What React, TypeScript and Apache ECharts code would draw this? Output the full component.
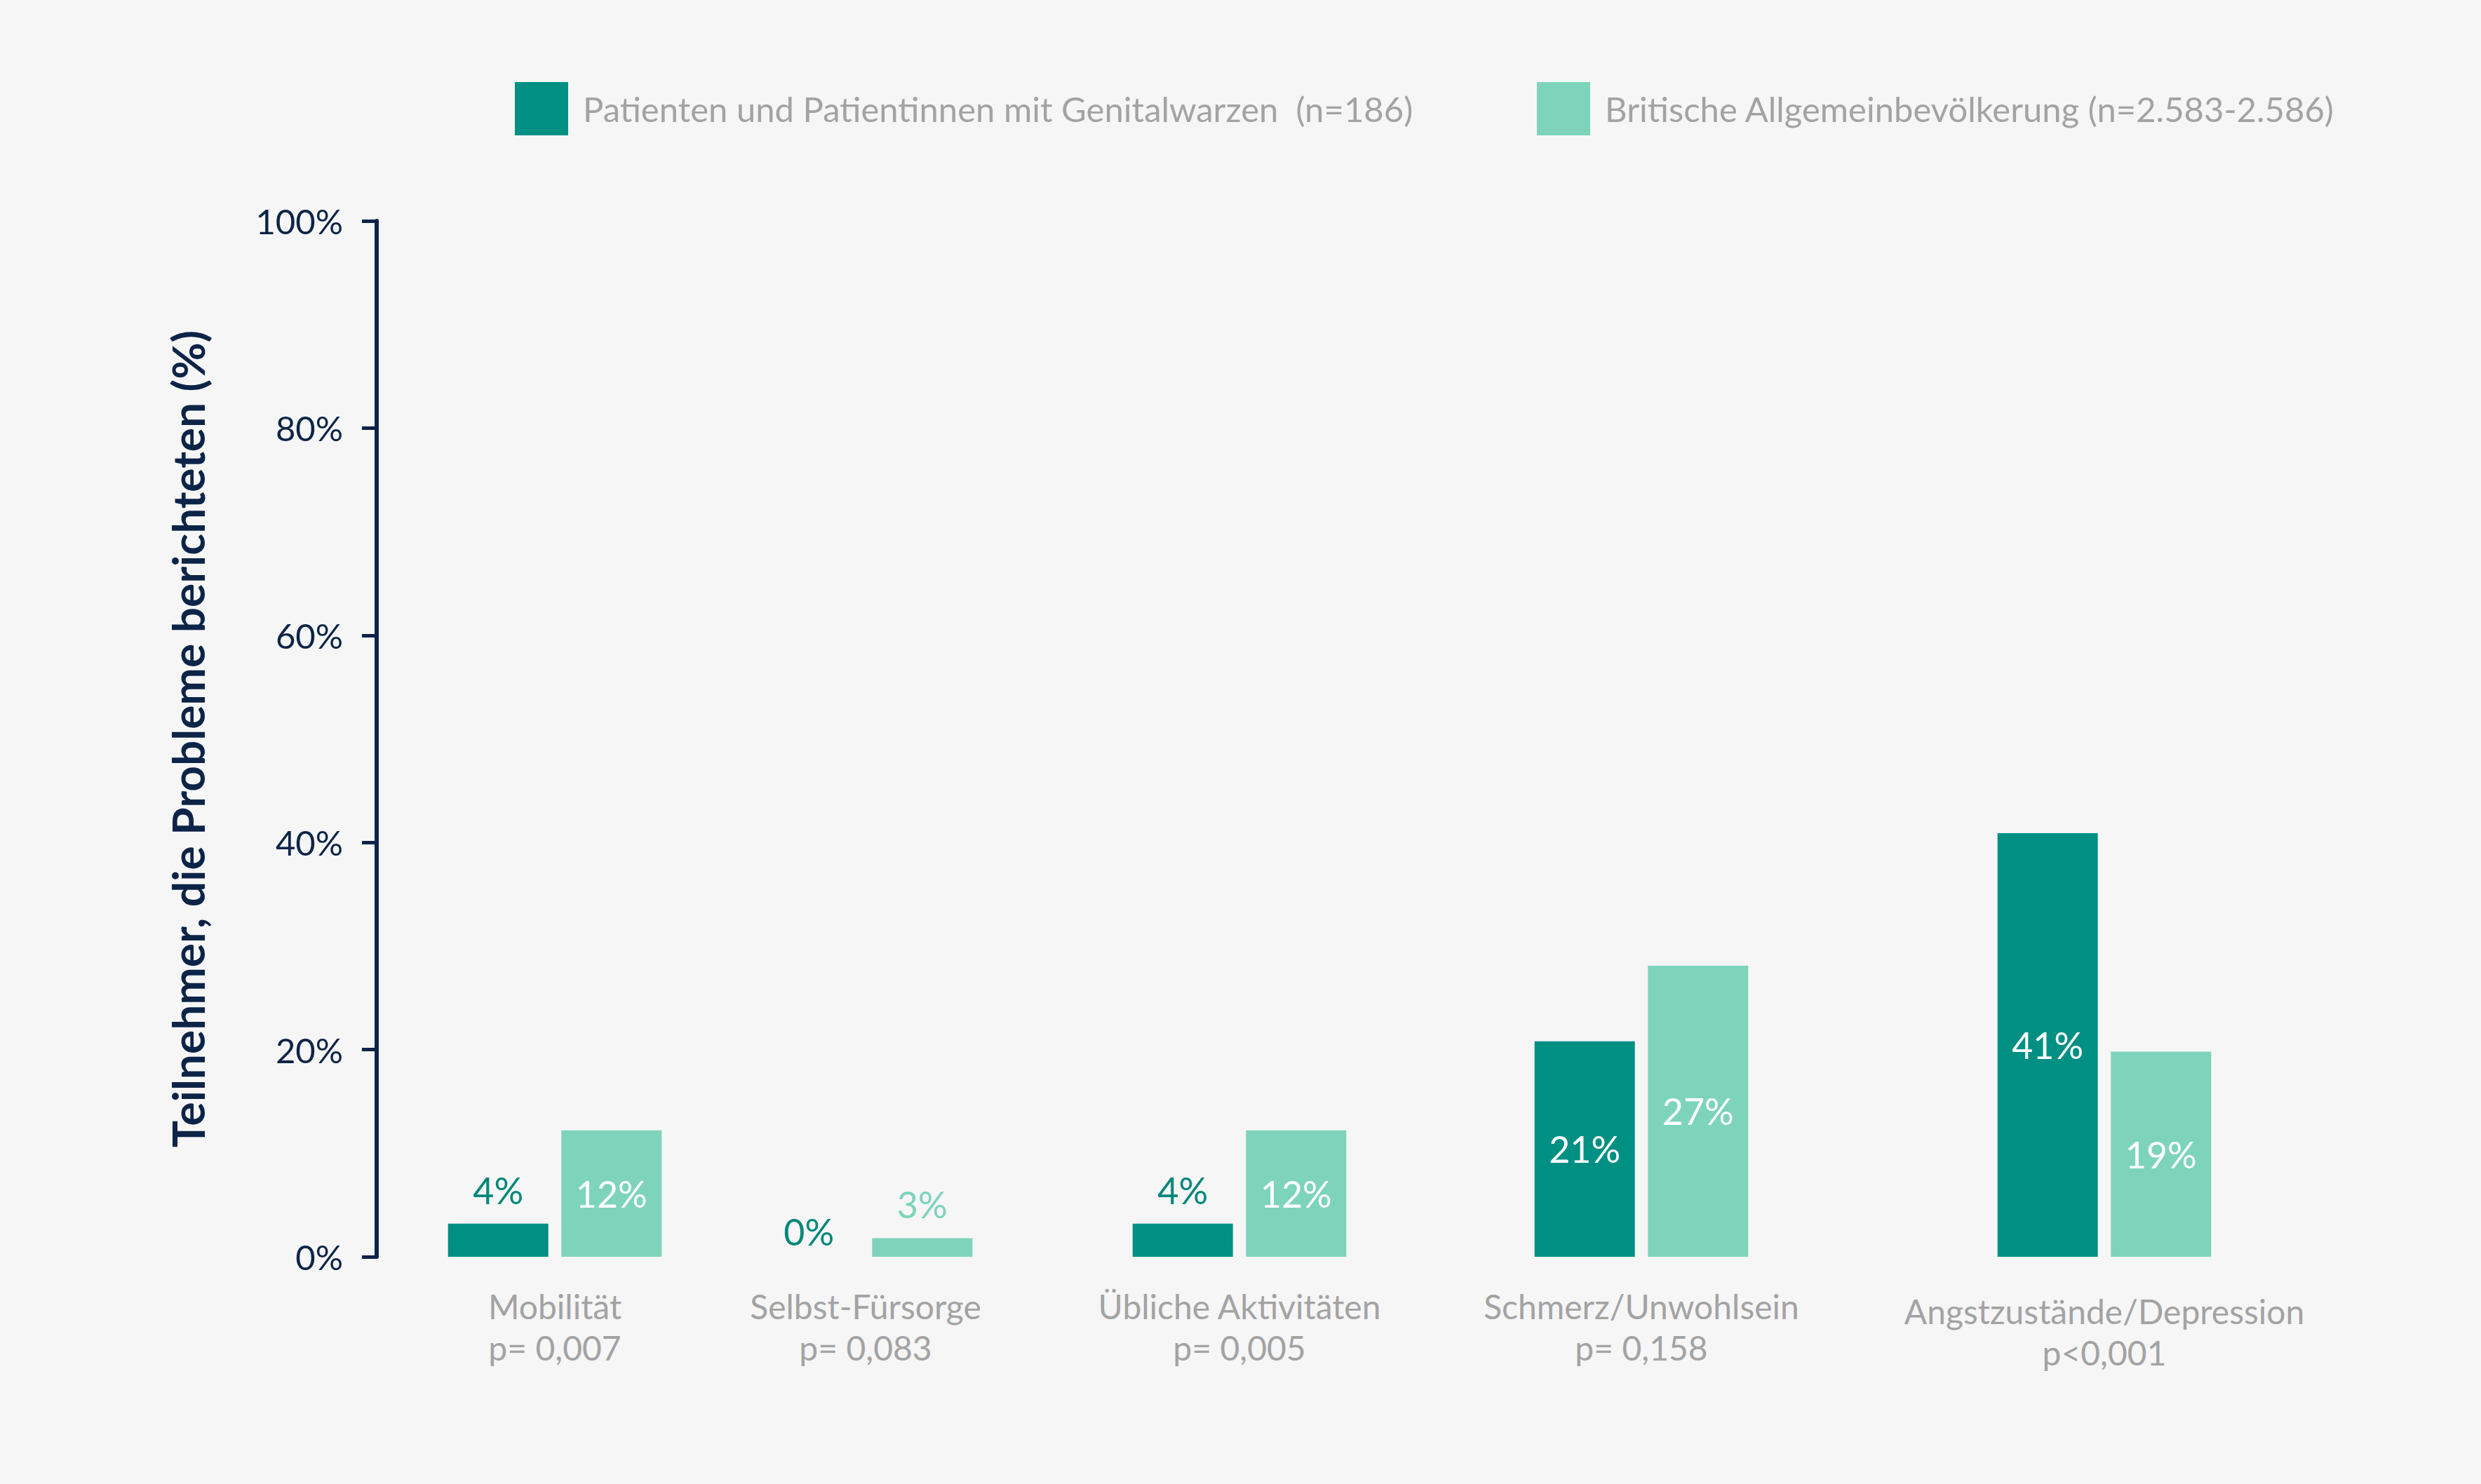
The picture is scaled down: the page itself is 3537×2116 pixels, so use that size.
import React, { useEffect, useRef } from "react";
import * as echarts from "echarts";

const categories = [
  "Mobilität",
  "Selbst-Fürsorge",
  "Übliche Aktivitäten",
  "Schmerz/Unwohlsein",
  "Angstzustände/Depression",
];
const pValues = ["p= 0,007", "p= 0,083", "p= 0,005", "p= 0,158", "p<0,001"];
const seriesNames = [
  "Patienten und Patientinnen mit Genitalwarzen  (n=186)",
  "Britische Allgemeinbevölkerung (n=2.583-2.586)",
];
// bar heights as drawn in the picture
const patientValues = [3.2, 0, 3.2, 20.8, 40.9];
const populationValues = [12.2, 1.8, 12.2, 28.1, 19.8];
// value labels as printed
const patientLabels = ["4%", "0%", "4%", "21%", "41%"];
const populationLabels = ["12%", "3%", "12%", "27%", "19%"];
const yAxisTitle = "Teilnehmer, die Probleme berichteten (%)";

const DARK = "#008f83";
const DARK_TEXT = "#00877a";
const LIGHT = "#7dd4bb";
const NAVY = "#0c2447";
const GRAY = "#a3a3a3";
const BG = "#f6f6f6";
const FONT = "Lato, 'Open Sans', sans-serif";

export default function App() {
  const ref = useRef<HTMLDivElement>(null);
  useEffect(() => {
    document.body.style.margin = "0";
    document.body.style.background = BG;
    const chart = echarts.init(ref.current!, null, { renderer: "svg" });
    const H = 2116;
    const axisX = 537;
    const zeroY = 1792;
    const topY = 315;
    const groupCenters = [791, 1234, 1767, 2340, 3000];

    const grids: any[] = [];
    const xAxes: any[] = [];
    const yAxes: any[] = [];
    const series: any[] = [];

    const makeItem = (v: number, lbl: string, textColor: string) => {
      const small = parseFloat(lbl) < 10;
      return {
        value: v,
        label: small
          ? {
              show: true,
              position: "top",
              distance: v === 0 ? 10 : 22,
              color: textColor,
              formatter: () => lbl,
            }
          : {
              show: true,
              position: "inside",
              color: "#ffffff",
              formatter: () => lbl,
            },
      };
    };

    groupCenters.forEach((c, i) => {
      const left = i === 0 ? axisX : c - 260;
      const width = i === 0 ? 2 * (c - axisX) : 520;
      grids.push({ left, width, top: topY, bottom: H - zeroY, containLabel: false });
      xAxes.push({
        type: "category",
        gridIndex: i,
        data: [categories[i]],
        axisLine: { show: false },
        axisTick: { show: false },
        axisLabel: {
          interval: 0,
          margin: i === 4 ? 48 : 41,
          fontFamily: FONT,
          fontSize: 48,
          lineHeight: 59,
          color: GRAY,
          formatter: () => `${categories[i]}\n${pValues[i]}`,
        },
      });
      yAxes.push({
        type: "value",
        gridIndex: i,
        min: 0,
        max: 100,
        interval: 20,
        show: i === 0,
        name: i === 0 ? yAxisTitle : "",
        nameLocation: "middle",
        nameRotate: 90,
        nameGap: 238,
        nameTextStyle: {
          fontFamily: FONT,
          fontSize: 64,
          fontWeight: "bold",
          color: NAVY,
        },
        splitLine: { show: false },
        axisLine: { show: true, lineStyle: { color: NAVY, width: 6 } },
        axisTick: { show: true, length: 21, lineStyle: { color: NAVY, width: 5 } },
        axisLabel: {
          margin: 48,
          fontFamily: FONT,
          fontSize: 49,
          color: NAVY,
          formatter: (v: number) => `${v}%`,
        },
      });
      series.push({
        type: "bar",
        name: seriesNames[0],
        xAxisIndex: i,
        yAxisIndex: i,
        barWidth: 143,
        barGap: "13%",
        itemStyle: { color: DARK },
        label: { fontFamily: FONT, fontSize: 52 },
        data: [makeItem(patientValues[i], patientLabels[i], DARK_TEXT)],
      });
      series.push({
        type: "bar",
        name: seriesNames[1],
        xAxisIndex: i,
        yAxisIndex: i,
        barWidth: 143,
        barGap: "13%",
        itemStyle: { color: LIGHT },
        label: { fontFamily: FONT, fontSize: 52 },
        data: [makeItem(populationValues[i], populationLabels[i], LIGHT)],
      });
    });

    const legendBase = {
      top: 117,
      padding: 0,
      icon: "rect",
      itemWidth: 76,
      itemHeight: 76,
      itemStyle: { borderWidth: 0 },
      textStyle: {
        fontFamily: FONT,
        fontSize: 49,
        color: GRAY,
        padding: [0, 0, 0, 16],
      },
      selectedMode: false,
    };

    chart.setOption({
      animation: false,
      backgroundColor: BG,
      textStyle: { fontFamily: FONT },
      legend: [
        { ...legendBase, left: 734, data: [seriesNames[0]] },
        { ...legendBase, left: 2191, data: [seriesNames[1]] },
      ],
      grid: grids,
      xAxis: xAxes,
      yAxis: yAxes,
      series,
    });
    return () => chart.dispose();
  }, []);
  return (
    <div
      ref={ref}
      style={{ position: "fixed", left: 0, top: 0, width: 3537, height: 2116, background: BG }}
    />
  );
}
